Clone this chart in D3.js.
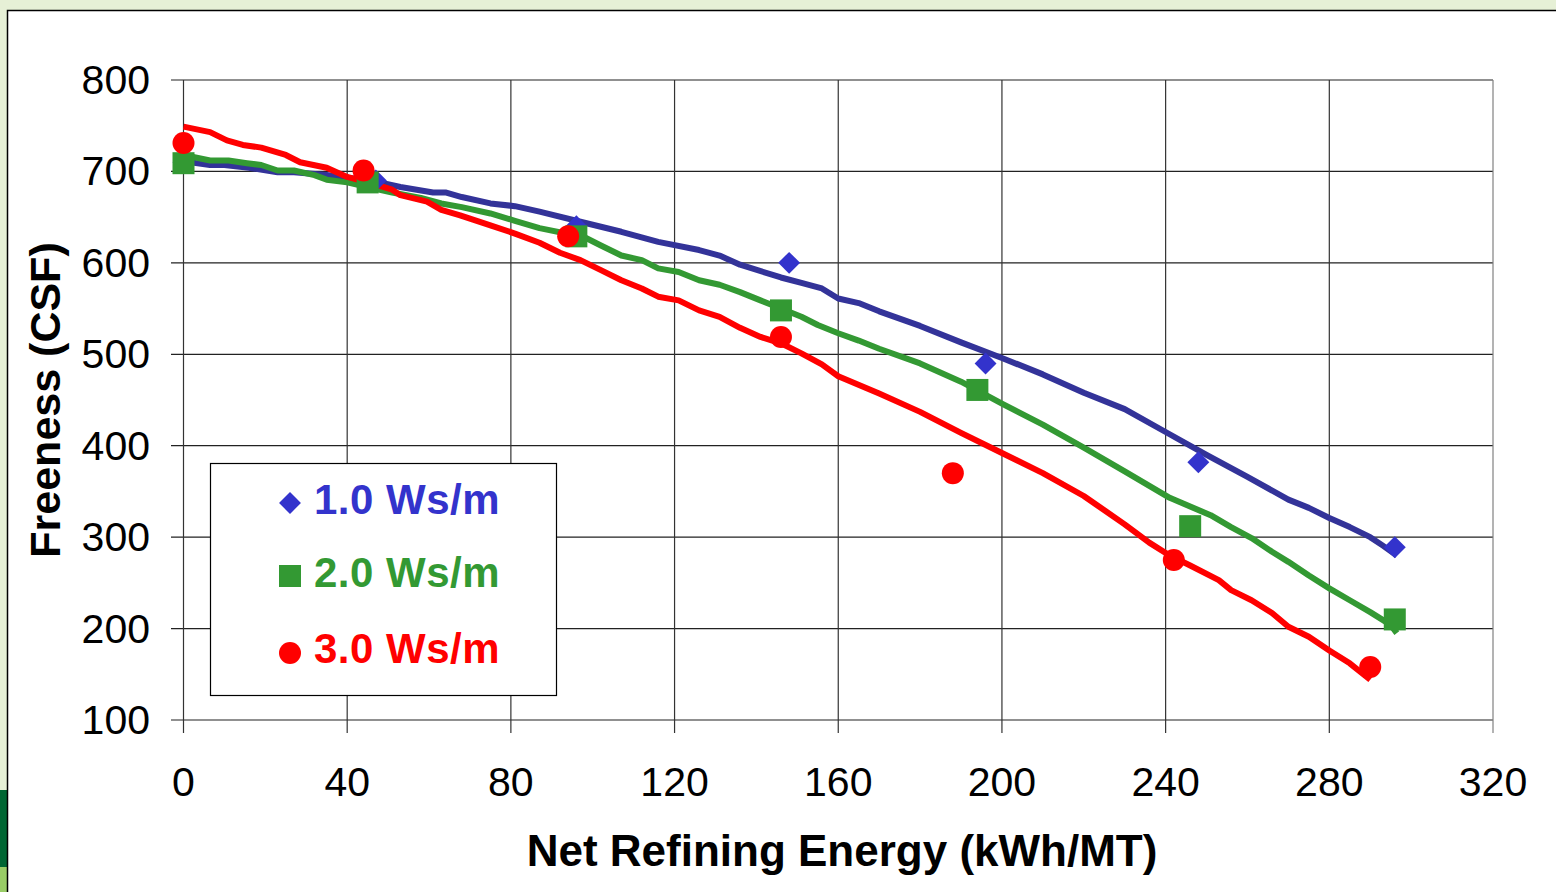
<!DOCTYPE html>
<html><head><meta charset="utf-8">
<script src="https://cdn.jsdelivr.net/npm/d3@7"></script>
<style>
html,body{margin:0;padding:0;background:#fff;}
svg{display:block;font-family:"Liberation Sans",Arial,sans-serif;}
</style></head>
<body>
<svg id="c" width="1556" height="892"></svg>
<script>
// ---- data ----
const xTicks = [0,40,80,120,160,200,240,280,320];
const yTicks = [100,200,300,400,500,600,700,800];
const seriesNames = ["1.0 Ws/m","2.0 Ws/m","3.0 Ws/m"];
const lineColors = ["#333399","#339933","#ff0000"];
const markerColors = ["#3333cc","#339933","#ff0000"];

const points1 = [[0,710],[47,690],[96,640],[148,600],[196,490],[248,382],[296,289]];
const points2 = [[0,709],[45,688],[96,629],[146,548],[194,461],[246,312],[296,210]];
const points3 = [[0,731],[44,701],[94,629],[146,519],[188,370],[242,275],[290,158]];

const line1 = [[0,711],[6.5,707],[10,707],[16,704],[23,699],[27,699],[35,696],[40,693],[46,690],[53,683],[61,677],[64,677],[68,672],[75,665],[81,662],[87,656],[97,645],[107,634],[116,623],[126,614],[131,608],[136,598],[146,584],[151,578],[156,572],[160,561],[165,556],[170,547],[180,531],[190,513],[200,496],[210,478],[220,458],[230,440],[240,415],[250,390],[260,366],[270,341],[275,332],[280,321],[285,311],[290,300],[293,291],[296.5,280]];
const line2 = [[0,718],[6.5,712],[11,712],[15.5,709],[19,707],[23,701],[27,701],[32,696],[35,691],[40,688],[45,683],[51,677],[58,671],[63,665],[68,661],[75,654],[81,646],[87,638],[98,628],[102,619],[107,608],[112,603],[116,594],[121,590],[126,581],[131,576],[136,568],[141,559],[146,550],[151,541],[155,532],[160,523],[165,515],[170,506],[180,490],[190,470],[200,446],[210,423],[220,398],[230,372],[241,343],[251,324],[256,311],[261,299],[266,284],[270,273],[275,258],[280,244],[285,231],[290,218],[295,204],[296.5,195]];
const line3 = [[0,749],[6.5,743],[10.6,734],[14.5,729],[19,726],[25,718],[28.5,710],[35,704],[40,694],[46,687],[51,680],[53,674],[59.5,667],[63,658],[67.6,652],[75,641],[81,632],[87,622],[92,611],[97,603],[102,592],[107,581],[112,572],[116,563],[121,559],[126,548],[131,541],[136,529],[141,519],[146,512],[151,501],[156,489],[160,476],[170,457],[180,437],[190,414],[200,392],[210,370],[220,345],[230,314],[236,294],[241,280],[246,269],[253,253],[256,242],[261,231],[266,217],[270,202],[275,191],[280,176],[285,162],[290,144]];

const lines = [line1,line2,line3];
const points = [points1,points2,points3];

// ---- layout ----
const svg = d3.select("#c");
const W = 1556, H = 892;
svg.append("rect").attr("x",0).attr("y",0).attr("width",W).attr("height",H).attr("fill","#e6f0d6");
svg.append("rect").attr("x",0).attr("y",790).attr("width",7).attr("height",77).attr("fill","#006633");
svg.append("rect").attr("x",0).attr("y",867).attr("width",7).attr("height",25).attr("fill","#99cc66");
svg.append("rect").attr("x",7.5).attr("y",10.5).attr("width",W).attr("height",H).attr("fill","#fff").attr("stroke","#000").attr("stroke-width",1.5);

const x = d3.scaleLinear().domain([0,320]).range([183.5,1493]);
const y = d3.scaleLinear().domain([100,800]).range([720,80]);

const g = svg.append("g");
g.selectAll("line.h").data(yTicks).join("line")
  .attr("x1",171).attr("x2",x(320)).attr("y1",d=>y(d)).attr("y2",d=>y(d))
  .attr("stroke","#222").attr("stroke-width",1.2);
g.selectAll("line.v").data(xTicks).join("line")
  .attr("y1",y(800)).attr("y2",733).attr("x1",d=>x(d)).attr("x2",d=>x(d))
  .attr("stroke",(d,i)=> i===xTicks.length-1 ? "#808080" : "#333").attr("stroke-width",1.2);

g.selectAll("text.yt").data(yTicks).join("text")
  .attr("x",150).attr("y",d=>y(d)+14).attr("text-anchor","end")
  .attr("font-size",41).attr("fill","#000").text(d=>d);
g.selectAll("text.xt").data(xTicks).join("text")
  .attr("x",d=>x(d)).attr("y",796).attr("text-anchor","middle")
  .attr("font-size",41).attr("fill","#000").text(d=>d);

svg.append("text").attr("x",842).attr("y",866).attr("text-anchor","middle")
  .attr("font-size",44).attr("font-weight","bold").text("Net Refining Energy (kWh/MT)");
svg.append("text").attr("transform","translate(60,400) rotate(-90)").attr("text-anchor","middle")
  .attr("font-size",43).attr("font-weight","bold").text("Freeness (CSF)");

const lg = d3.line().x(d=>x(d[0])).y(d=>y(d[1]));
lines.forEach((L,i)=>{
  svg.append("path").attr("d",lg(L)).attr("fill","none")
    .attr("stroke",lineColors[i]).attr("stroke-width",6).attr("stroke-linejoin","round");
});

function marker(sel, i, cx, cy){
  if(i===0){
    sel.append("path").attr("d",d3.symbol().type(d3.symbolSquare).size(15.5*15.5)())
      .attr("transform",`translate(${cx},${cy}) rotate(45)`).attr("fill",markerColors[i]);
  } else if(i===1){
    sel.append("path").attr("d",d3.symbol().type(d3.symbolSquare).size(22*22)())
      .attr("transform",`translate(${cx},${cy})`).attr("fill",markerColors[i]);
  } else {
    sel.append("circle").attr("cx",cx).attr("cy",cy).attr("r",11).attr("fill",markerColors[i]);
  }
}
points.forEach((P,i)=>{
  const mg = svg.append("g");
  P.forEach(p=>marker(mg,i,x(p[0]),y(p[1])));
});

const leg = svg.append("g");
leg.append("rect").attr("x",210.5).attr("y",463.5).attr("width",346).attr("height",232)
  .attr("fill","#fff").attr("stroke","#000").attr("stroke-width",1.2);
const legY = [503,576,653];
seriesNames.forEach((s,i)=>{
  marker(leg,i,290,legY[i]);
  leg.append("text").attr("x",314).attr("y",legY[i]+11+ (i===2?-1:0))
    .attr("font-size",42).attr("font-weight","bold").attr("fill",markerColors[i])
    .attr("letter-spacing",0.5).text(s);
});
</script>
</body></html>
